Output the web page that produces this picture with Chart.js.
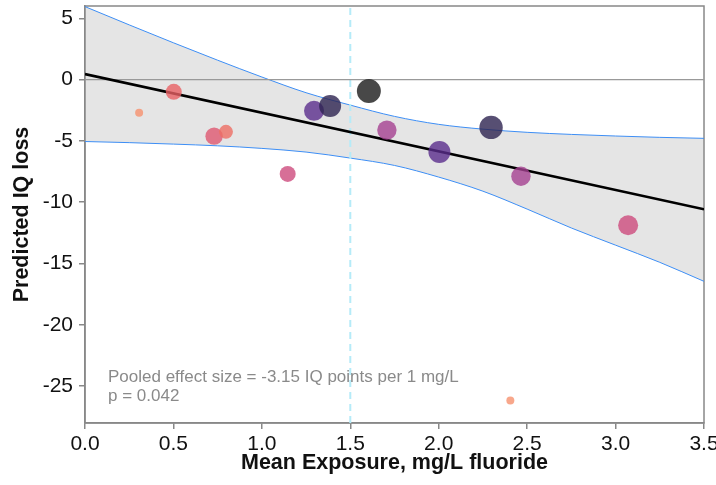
<!DOCTYPE html>
<html><head><meta charset="utf-8">
<script src="https://cdn.jsdelivr.net/npm/chart.js@4.4.0/dist/chart.umd.min.js"></script>
<style>html,body{margin:0;padding:0;background:#fff;}</style>
</head><body>
<canvas id="c" width="716" height="485"></canvas>
<script>
// ---- data ----
const studyX = [0.306, 0.502, 0.730, 0.797, 1.146, 1.295, 1.386, 1.605, 1.707, 2.004, 2.296, 2.465, 3.071, 2.405];
const studyY = [-2.71, -1.00, -4.61, -4.26, -7.69, -2.55, -2.16, -0.94, -4.12, -5.90, -3.90, -7.88, -11.88, -26.17];
const studyWeight = [4, 8, 8.7, 7, 8, 10, 11, 12, 9.7, 11, 11.7, 9.7, 10, 4];
const bandX = [0, 0.25, 0.5, 0.75, 1.0, 1.25, 1.5, 1.75, 2.0, 2.25, 2.5, 2.75, 3.0, 3.25, 3.5];
const bandUpper = [5.95, 4.46, 3.00, 1.58, 0.21, -1.07, -2.08, -3.00, -3.65, -4.04, -4.30, -4.47, -4.60, -4.71, -4.79];
const bandLower = [-5.05, -5.14, -5.26, -5.40, -5.61, -5.91, -6.40, -7.00, -7.95, -9.10, -10.56, -12.10, -13.50, -14.90, -16.45];
const fitX = [0, 3.5];
const fitY = [0.45, -10.58];
const refX = 1.5;
const xTicks = [0, 0.5, 1.0, 1.5, 2.0, 2.5, 3.0, 3.5];
const yTicks = [5, 0, -5, -10, -15, -20, -25];
const xMin = 0, xMax = 3.5, yMin = -28, yMax = 6;
const noteLines = ['Pooled effect size = -3.15 IQ points per 1 mg/L', 'p = 0.042'];
const noteAt = {x: 0.13, y: -24.25};

// ---- styling ----
const pointColors = [
  'rgba(246,145,110,0.8)', 'rgba(232,96,100,0.8)', 'rgba(222,88,112,0.8)', 'rgba(238,110,100,0.8)',
  'rgba(205,75,125,0.8)', 'rgba(90,45,140,0.8)', 'rgba(45,35,80,0.8)', 'rgba(40,40,40,0.85)',
  'rgba(165,65,145,0.8)', 'rgba(90,45,140,0.8)', 'rgba(45,35,80,0.8)', 'rgba(165,65,145,0.8)',
  'rgba(205,75,125,0.8)', 'rgba(246,145,110,0.8)'
];
const FONT = "'Liberation Sans', Arial, Helvetica, sans-serif";
Chart.defaults.font.family = FONT;

const toPts = (xs, ys) => xs.map((x, i) => ({x: x, y: ys[i]}));

const framePlugin = {
  id: 'frame',
  beforeDatasetsDraw(chart) {
    const {ctx, chartArea: a} = chart;
    ctx.save();
    ctx.strokeStyle = '#888';
    ctx.lineWidth = 1.5;
    ctx.strokeRect(a.left, a.top, a.right - a.left, a.bottom - a.top);
    ctx.restore();
  }
};
const notePlugin = {
  id: 'note',
  afterDatasetsDraw(chart) {
    const {ctx, scales} = chart;
    const px = scales.x.getPixelForValue(noteAt.x);
    const py = scales.y.getPixelForValue(noteAt.y);
    ctx.save();
    ctx.font = '17px ' + FONT;
    ctx.fillStyle = '#8a8a8a';
    ctx.textBaseline = 'middle';
    ctx.textAlign = 'left';
    noteLines.forEach((t, i) => ctx.fillText(t, px, py + i * 19.5));
    ctx.restore();
  }
};

new Chart(document.getElementById('c'), {
  type: 'scatter',
  data: {
    datasets: [
      { data: toPts(studyX, studyY), pointRadius: studyWeight, pointHoverRadius: studyWeight,
        backgroundColor: pointColors, borderWidth: 0, pointBorderWidth: 0 },
      { type: 'line', data: toPts(fitX, fitY), borderColor: '#000', borderWidth: 2.6, pointRadius: 0, fill: false },
      { type: 'line', data: [{x: xMin, y: 0}, {x: xMax, y: 0}], borderColor: '#999', borderWidth: 1.2, pointRadius: 0, fill: false },
      { type: 'line', data: [{x: refX, y: yMin}, {x: refX, y: yMax}], borderColor: '#b5ebf8', borderWidth: 2, borderDash: [7, 5], pointRadius: 0, fill: false },
      { type: 'line', data: toPts(bandX, bandUpper), borderColor: '#3d8ef5', borderWidth: 1, pointRadius: 0,
        cubicInterpolationMode: 'monotone', fill: '+1', backgroundColor: '#e5e5e5' },
      { type: 'line', data: toPts(bandX, bandLower), borderColor: '#3d8ef5', borderWidth: 1, pointRadius: 0,
        cubicInterpolationMode: 'monotone', fill: false }
    ]
  },
  options: {
    responsive: false, animation: false, devicePixelRatio: 1,
    layout: {autoPadding: false, padding: {top: 6, right: 12, left: 0, bottom: 0}},
    plugins: {legend: {display: false}, tooltip: {enabled: false}, filler: {drawTime: 'beforeDatasetsDraw'}},
    scales: {
      x: {
        type: 'linear', min: xMin, max: xMax,
        afterBuildTicks: s => { s.ticks = xTicks.map(v => ({value: v})); },
        afterFit: s => { s.height = 62; s.paddingLeft = 0; s.paddingRight = 0; },
        ticks: {callback: v => Number(v).toFixed(1), font: {size: 21}, color: '#111', padding: 3, maxRotation: 0, autoSkip: false},
        grid: {drawOnChartArea: false, drawTicks: true, tickLength: 6, color: '#888', lineWidth: 1.5},
        border: {display: true, color: '#888', width: 1.5},
        title: {display: true, text: 'Mean Exposure, mg/L fluoride', font: {size: 21.5, weight: 'bold'}, color: '#111', padding: {top: 0, bottom: 9}}
      },
      y: {
        type: 'linear', min: yMin, max: yMax,
        afterBuildTicks: s => { s.ticks = yTicks.map(v => ({value: v})); },
        afterFit: s => { s.width = 85; s.paddingTop = 0; s.paddingBottom = 0; },
        ticks: {font: {size: 21, lineHeight: 0.5}, color: '#111', padding: 6, autoSkip: false},
        grid: {drawOnChartArea: false, drawTicks: true, tickLength: 6, color: '#888', lineWidth: 1.5},
        border: {display: true, color: '#888', width: 1.5},
        title: {display: true, text: 'Predicted IQ loss', font: {size: 21.5, weight: 'bold'}, color: '#111', padding: {top: 9, bottom: 0}}
      }
    }
  },
  plugins: [framePlugin, notePlugin]
});
</script>
</body></html>
